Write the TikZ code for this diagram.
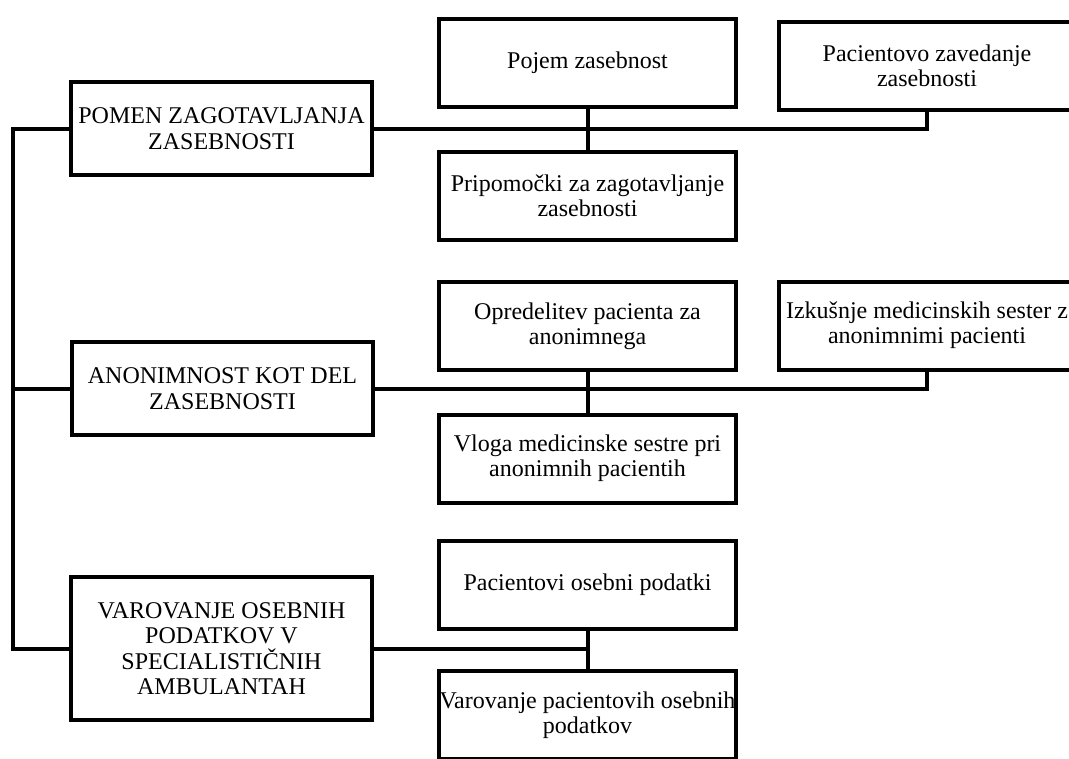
\documentclass[tikz,border=0pt]{standalone}
\usepackage{fontspec}
\setmainfont{Liberation Serif}

\begin{document}
\begin{tikzpicture}[x=0.75pt, y=-0.75pt,
    box/.style={draw, line width=3pt, align=center, inner xsep=0pt,
        font=\fontsize{18}{19}\selectfont},
    glavna/.style={box, minimum width=225.75pt, minimum height=69.75pt},
    podtema/.style={box, minimum width=222.75pt, minimum height=66pt},
    povezava/.style={line width=3pt}]
    \clip (0,0) rectangle (1069,758);
    % glavne teme
    \node (m1) at (221.5,128.5) [glavna] {POMEN ZAGOTAVLJANJA\\ZASEBNOSTI};
    \node (m2) at (222.5,388.5) [glavna] {ANONIMNOST KOT DEL\\ZASEBNOSTI};
    \node (m3) at (221.5,648.5) [glavna, minimum height=107.25pt]
        {VAROVANJE OSEBNIH\\PODATKOV V\\SPECIALISTIČNIH\\AMBULANTAH};
    % podteme
    \foreach \n/\x/\y/\t in {p1/587.5/63/{Pojem zasebnost},
                             p2/587.5/196/{Pripomočki za zagotavljanje\\zasebnosti},
                             p3/927/65.5/{Pacientovo zavedanje\\zasebnosti},
                             q1/587.5/326/{Opredelitev pacienta za\\anonimnega},
                             q2/587.5/458.5/{Vloga medicinske sestre pri\\anonimnih pacientih},
                             q3/927/325.5/{Izkušnje medicinskih sester z\\anonimnimi pacienti},
                             r1/587.5/585/{Pacientovi osebni podatki},
                             r2/587.5/715/{Varovanje pacientovih osebnih\\podatkov}} {
        \node (\n) at (\x,\y) [podtema] {\t};
    }
    % deblo na levi
    \coordinate (trunk) at (13,128.5);
    \draw[povezava] (m1.west) -- (trunk) -- (trunk |- m3.west) -- (m3.west);
    \draw[povezava] (m2.west) -- (m2.west -| trunk);
    % veje
    \draw[povezava] (m1.east) -- (m1.east -| p3.south) -- (p3.south);
    \draw[povezava] (p1.south) -- (p2.north);
    \draw[povezava] (m2.east) -- (m2.east -| q3.south) -- (q3.south);
    \draw[povezava] (q1.south) -- (q2.north);
    \draw[povezava] (m3.east) -- (m3.east -| r1.south);
    \draw[povezava] (r1.south) -- (r2.north);
\end{tikzpicture}
\end{document}
